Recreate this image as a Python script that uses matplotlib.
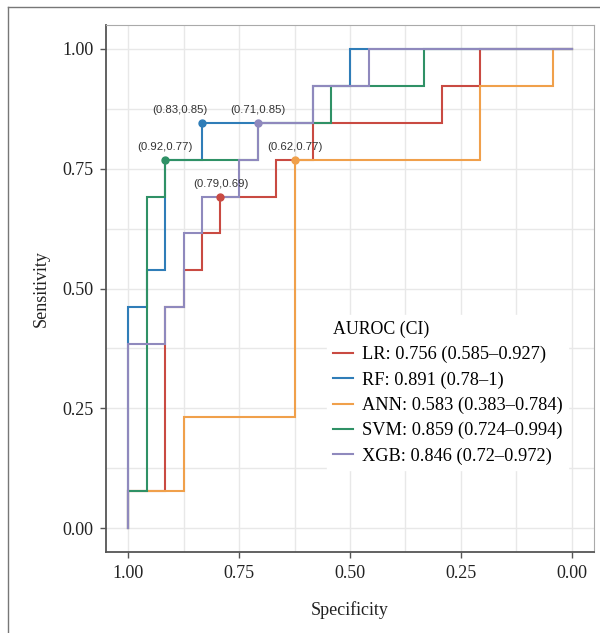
import matplotlib
matplotlib.use("Agg")
import matplotlib.pyplot as plt
from matplotlib.lines import Line2D

# ROC step curves (specificity, sensitivity corners)
models = ["LR", "RF", "ANN", "SVM", "XGB"]
auroc_labels = ["LR: 0.756 (0.585\u20130.927)",
                "RF: 0.891 (0.78\u20131)",
                "ANN: 0.583 (0.383\u20130.784)",
                "SVM: 0.859 (0.724\u20130.994)",
                "XGB: 0.846 (0.72\u20130.972)"]

lr_spec = [1, 1, 0.917, 0.917, 0.875, 0.875, 0.833, 0.833, 0.792, 0.792,
           0.667, 0.667, 0.583, 0.583, 0.292, 0.292, 0.208, 0.208, 0]
lr_sens = [0, 0.077, 0.077, 0.462, 0.462, 0.538, 0.538, 0.615, 0.615, 0.692,
           0.692, 0.769, 0.769, 0.846, 0.846, 0.923, 0.923, 1, 1]

rf_spec = [1, 1, 0.958, 0.958, 0.917, 0.917, 0.833, 0.833, 0.583, 0.583, 0.5, 0.5, 0]
rf_sens = [0, 0.462, 0.462, 0.538, 0.538, 0.769, 0.769, 0.846, 0.846, 0.923, 0.923, 1, 1]

ann_spec = [1, 1, 0.875, 0.875, 0.625, 0.625, 0.208, 0.208, 0.042, 0.042, 0]
ann_sens = [0, 0.077, 0.077, 0.231, 0.231, 0.769, 0.769, 0.923, 0.923, 1, 1]

svm_spec = [1, 1, 0.958, 0.958, 0.917, 0.917, 0.708, 0.708, 0.542, 0.542, 0.333, 0.333, 0]
svm_sens = [0, 0.077, 0.077, 0.692, 0.692, 0.769, 0.769, 0.846, 0.846, 0.923, 0.923, 1, 1]

xgb_spec = [1, 1, 0.917, 0.917, 0.875, 0.875, 0.833, 0.833, 0.75, 0.75,
            0.708, 0.708, 0.583, 0.583, 0.458, 0.458, 0]
xgb_sens = [0, 0.385, 0.385, 0.462, 0.462, 0.615, 0.615, 0.692, 0.692, 0.769,
            0.769, 0.846, 0.846, 0.923, 0.923, 1, 1]

# best threshold points
best_spec = [0.792, 0.833, 0.625, 0.917, 0.708]
best_sens = [0.692, 0.846, 0.769, 0.769, 0.846]
best_text = ["(0.79,0.69)", "(0.83,0.85)", "(0.62,0.77)", "(0.92,0.77)", "(0.71,0.85)"]

colors = ["#c94a42", "#2f7db8", "#f0a04b", "#2f9166", "#8f89bd"]
label_dx = [0, -16, 0, 0, 0]  # points, RF label was nudged left

curves = [(lr_spec, lr_sens), (rf_spec, rf_sens), (ann_spec, ann_sens),
          (svm_spec, svm_sens), (xgb_spec, xgb_sens)]

serif = ["Liberation Serif", "DejaVu Serif"]

fig = plt.figure(figsize=(6.0, 6.33), dpi=100)
ax = fig.add_axes([106 / 600, 1 - 552 / 633, (594 - 106) / 600, (552 - 25) / 633])

for i in range(len(models)):
    ax.plot(curves[i][0], curves[i][1], color=colors[i], lw=1.5,
            label=auroc_labels[i], solid_joinstyle="miter")

for i in range(len(models)):
    ax.plot(best_spec[i], best_sens[i], "o", color=colors[i], ms=5, zorder=5)
    ax.annotate(best_text[i], (best_spec[i], best_sens[i]),
                xytext=(label_dx[i], 9), textcoords="offset points",
                ha="center", va="center", fontsize=8.2, color="#333333",
                family=["Liberation Sans", "DejaVu Sans"])

ax.set_xlim(1.05, -0.05)
ax.set_ylim(-0.05, 1.05)
ticks = [1.0, 0.75, 0.5, 0.25, 0.0]
ax.set_xticks(ticks)
ax.set_yticks(ticks)
ax.set_xticklabels(["1.00", "0.75", "0.50", "0.25", "0.00"], family=serif, fontsize=13)
ax.set_yticklabels(["1.00", "0.75", "0.50", "0.25", "0.00"], family=serif, fontsize=13)
ax.set_xticks([0.875, 0.625, 0.375, 0.125], minor=True)
ax.set_yticks([0.875, 0.625, 0.375, 0.125], minor=True)
ax.tick_params(which="major", length=4, width=1, color="#555555", pad=5, labelcolor="#222222")
ax.tick_params(which="minor", length=0)
ax.grid(True, which="both", color="#e8e8e8", lw=1.0)
ax.set_axisbelow(True)

for side in ["top", "right"]:
    ax.spines[side].set_color("#aaaaaa")
    ax.spines[side].set_linewidth(0.8)
for side in ["left", "bottom"]:
    ax.spines[side].set_color("#555555")
    ax.spines[side].set_linewidth(1.3)

ax.set_xlabel("Specificity", family=serif, fontsize=13, labelpad=14, color="#222222")
ax.set_ylabel("Sensitivity", family=serif, fontsize=13, labelpad=9, color="#222222")

leg = ax.legend(title="AUROC (CI)", loc="upper left",
                bbox_to_anchor=(318 / 600, 1 - 306 / 633), bbox_transform=fig.transFigure,
                frameon=True, framealpha=1, edgecolor="white", facecolor="white",
                prop={"family": serif, "size": 13.2},
                title_fontproperties={"family": serif, "size": 12.8},
                handlelength=1.1, handletextpad=0.5, labelspacing=0.44,
                borderpad=0.3, alignment="left", fancybox=False)
for h in leg.get_lines():
    h.set_linewidth(1.5)

# outer frame of the figure
fig.add_artist(Line2D([8 / 600, 8 / 600], [0, 1 - 7 / 633], color="#777777", lw=1.0,
                      transform=fig.transFigure))
fig.add_artist(Line2D([8 / 600, 1], [1 - 7 / 633, 1 - 7 / 633], color="#777777", lw=1.0,
                      transform=fig.transFigure))

fig.savefig("out.png", dpi=100)
